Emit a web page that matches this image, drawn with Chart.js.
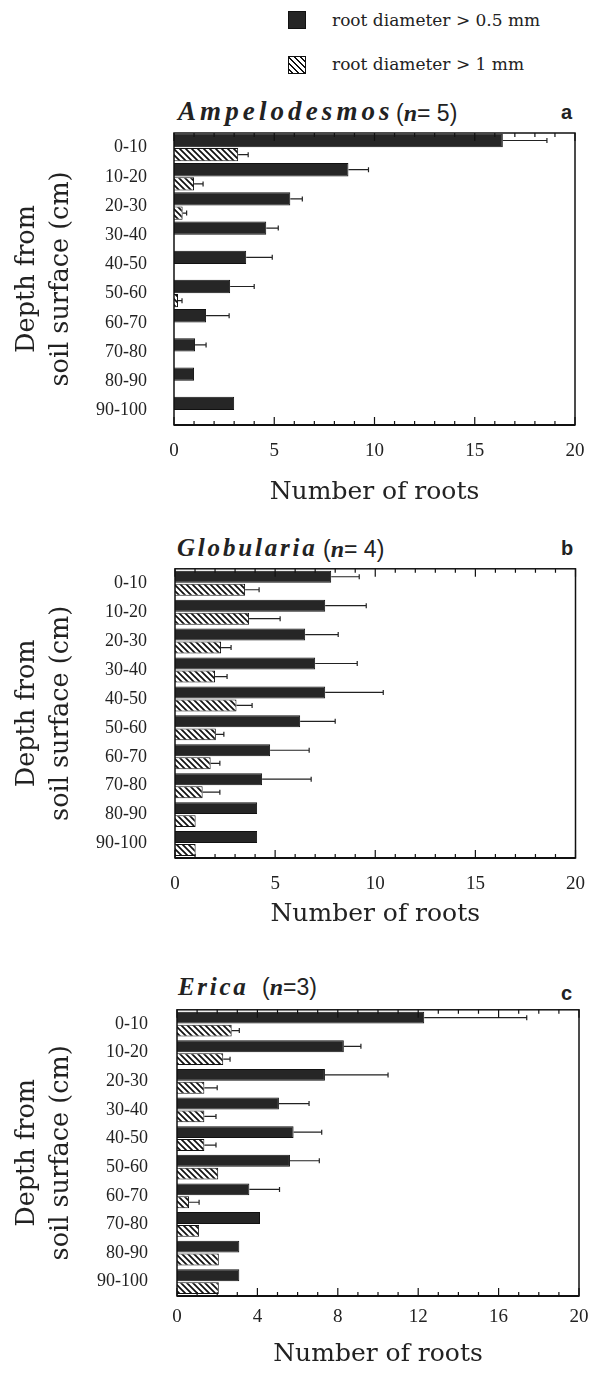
<!DOCTYPE html>
<html><head><meta charset="utf-8">
<script src="https://cdn.jsdelivr.net/npm/chart.js@4.4.1/dist/chart.umd.min.js"></script>
<style>
body{margin:0;width:600px;height:1373px;position:relative;background:#fff;overflow:hidden;color:#222}
.abs{position:absolute;white-space:nowrap;line-height:1}
.ttl{font-family:"Liberation Serif",serif;font-weight:bold;font-style:italic}
.n{font-family:"Liberation Sans",sans-serif;font-size:23px}
.n i{font-family:"Liberation Serif",serif;font-weight:bold;font-size:24px}
.lab{font-family:"Liberation Sans",sans-serif;font-weight:bold;font-size:20px}
.leg{font-family:"DejaVu Serif",serif;font-size:17px}
.sq{position:absolute;width:18px;height:18px;border:1px solid #111;box-sizing:border-box}
canvas{position:absolute;left:0}
</style></head>
<body>
<div class="sq" style="left:288px;top:11px;background:#262626"></div>
<div class="abs leg" style="left:332px;top:12px">root diameter &gt; 0.5 mm</div>
<div class="sq" style="left:288px;top:56px;background:repeating-linear-gradient(45deg,#fff 0 2px,#111 2px 3.5px,#fff 3.5px 4.2px)"></div>
<div class="abs leg" style="left:332px;top:56px">root diameter &gt; 1 mm</div>

<div class="abs ttl" style="left:178px;top:98px;font-size:27px;letter-spacing:4.1px">Ampelodesmos</div>
<div class="abs n" style="left:396px;top:101px">(<i>n</i>= 5)</div>
<div class="abs lab" style="left:561px;top:102px">a</div>

<div class="abs ttl" style="left:177px;top:535px;font-size:25px;letter-spacing:2.8px">Globularia</div>
<div class="abs n" style="left:323px;top:537px">(<i>n</i>= 4)</div>
<div class="abs lab" style="left:561px;top:538px">b</div>

<div class="abs ttl" style="left:178px;top:974px;font-size:25px;letter-spacing:2.7px">Erica</div>
<div class="abs n" style="left:262px;top:975px">(<i>n</i>=3)</div>
<div class="abs lab" style="left:561px;top:983px">c</div>

<canvas id="ca" width="600" height="415" style="top:95px"></canvas>
<canvas id="cb" width="600" height="415" style="top:530px"></canvas>
<canvas id="cc" width="600" height="403" style="top:970px"></canvas>

<script>
// ---- data ----
const categories = ['0-10','10-20','20-30','30-40','40-50','50-60','60-70','70-80','80-90','90-100'];
const seriesNames = ['root diameter > 0.5 mm','root diameter > 1 mm'];

// Panel a: Ampelodesmos (n=5)
const darkA    = [16.4, 8.7, 5.8, 4.6, 3.6, 2.8, 1.6, 1.05, 1.0, 3.0];
const darkAErr = [2.2, 1.0, 0.6, 0.6, 1.3, 1.2, 1.15, 0.55, 0, 0];
const hatchA    = [3.2, 1.0, 0.43, null, null, 0.2, null, null, null, null];
const hatchAErr = [0.5, 0.45, 0.2, 0, 0, 0.2, 0, 0, 0, 0];

// Panel b: Globularia (n=4)
const darkB    = [7.8, 7.5, 6.5, 7.0, 7.5, 6.25, 4.75, 4.35, 4.1, 4.1];
const darkBErr = [1.4, 2.05, 1.65, 2.1, 2.9, 1.75, 1.95, 2.45, 0, 0];
const hatchB    = [3.5, 3.7, 2.3, 2.0, 3.07, 2.04, 1.78, 1.38, 1.03, 1.03];
const hatchBErr = [0.7, 1.55, 0.5, 0.6, 0.78, 0.4, 0.46, 0.86, 0, 0];

// Panel c: Erica (n=3)
const darkC    = [12.3, 8.3, 7.36, 5.07, 5.8, 5.62, 3.6, 4.13, 3.1, 3.1];
const darkCErr = [5.1, 0.85, 3.14, 1.5, 1.4, 1.46, 1.5, 0, 0, 0];
const hatchC    = [2.72, 2.3, 1.36, 1.36, 1.36, 2.05, 0.6, 1.1, 2.08, 2.08];
const hatchCErr = [0.38, 0.34, 0.64, 0.58, 0.58, 0, 0.5, 0, 0, 0];

const xTicksAB = [0, 5, 10, 15, 20];
const xTicksC  = [0, 4, 8, 12, 16, 20];
const yTitle = ['Depth from', 'soil surface (cm)'];
const xTitle = 'Number of roots';

// ---- drawing ----
function hatchPattern(){
  const s = 6, p = document.createElement('canvas');
  p.width = p.height = s;
  const c = p.getContext('2d');
  c.fillStyle = '#fff'; c.fillRect(0,0,s,s);
  c.strokeStyle = '#111'; c.lineWidth = 1.7;
  c.beginPath();
  c.moveTo(-s,0); c.lineTo(s,2*s);
  c.moveTo(0,0); c.lineTo(s,s);
  c.moveTo(0,-s); c.lineTo(2*s,s);
  c.stroke();
  return document.createElement('canvas').getContext('2d').createPattern(p,'repeat');
}
const HATCH = hatchPattern();

const errorBars = {
  id:'errorBars',
  afterDatasetsDraw(chart){
    const ctx = chart.ctx, xs = chart.scales.x;
    chart.data.datasets.forEach((ds,di)=>{
      const meta = chart.getDatasetMeta(di);
      meta.data.forEach((bar,i)=>{
        const v = ds.data[i], e = ds.errors[i];
        if (v == null || !e) return;
        const x0 = xs.getPixelForValue(v), x1 = xs.getPixelForValue(v+e), y = bar.y;
        ctx.save();
        ctx.strokeStyle = '#222'; ctx.lineWidth = 1.2;
        ctx.beginPath();
        ctx.moveTo(x0,y); ctx.lineTo(x1,y);
        ctx.moveTo(x1,y-2.5); ctx.lineTo(x1,y+2.5);
        ctx.stroke();
        ctx.restore();
      });
    });
  }
};

const frame = {
  id:'frame',
  afterDraw(chart){
    const {ctx, chartArea:a} = chart, xs = chart.scales.x;
    const major = chart.options.plugins.frame.major;
    ctx.save();
    ctx.strokeStyle = '#111';
    ctx.lineWidth = 1.5;
    ctx.strokeRect(a.left, a.top, a.right-a.left, a.bottom-a.top);
    ctx.lineWidth = 1.2;
    ctx.beginPath();
    for (let v = xs.min; v <= xs.max; v++) {
      const x = xs.getPixelForValue(v);
      const L = major.includes(v) ? 8 : 4;
      ctx.moveTo(x, a.bottom); ctx.lineTo(x, a.bottom - L);
      ctx.moveTo(x, a.top); ctx.lineTo(x, a.top + L);
    }
    ctx.stroke();
    ctx.lineWidth = 2;
    ctx.beginPath(); ctx.moveTo(a.left, a.bottom); ctx.lineTo(a.right, a.bottom); ctx.stroke();
    ctx.restore();
  }
};

function panel(id, dark, darkErr, hatch, hatchErr, ticks, g){
  new Chart(document.getElementById(id), {
    type:'bar',
    data:{
      labels: categories,
      datasets:[
        {label:seriesNames[0], data:dark, errors:darkErr, backgroundColor:'#262626', borderColor:'#111', borderWidth:1, categoryPercentage:g.cp, barPercentage:g.bp},
        {label:seriesNames[1], data:hatch, errors:hatchErr, backgroundColor:HATCH, borderColor:'#111', borderWidth:1, categoryPercentage:g.cp, barPercentage:g.bp}
      ]
    },
    options:{
      indexAxis:'y',
      responsive:false,
      animation:false,
      devicePixelRatio:1,
      layout:{padding:{top:g.top, right:g.right, left:0, bottom:0}},
      plugins:{legend:{display:false}, tooltip:{enabled:false}, frame:{major:ticks}},
      scales:{
        x:{
          min:0, max:20,
          afterBuildTicks: s => { s.ticks = ticks.map(v => ({value:v})); },
          ticks:{font:{family:'Liberation Serif', size:19}, color:'#222', padding:g.tickPad, maxRotation:0},
          grid:{display:false, drawTicks:false},
          border:{display:false},
          title:{display:true, text:xTitle, font:{family:'DejaVu Serif', size:25}, color:'#222', padding:{top:0, bottom:g.titlePad}},
          afterFit: s => { s.height = g.xH; }
        },
        y:{
          ticks:{font:{family:'Liberation Serif', size:18}, color:'#222', padding:g.yPad},
          grid:{display:false, drawTicks:false},
          border:{display:false},
          title:{display:true, text:yTitle, font:{family:'DejaVu Serif', size:25.5, lineHeight:1.35}, color:'#222', padding:{top:10, bottom:0}},
          afterFit: s => { s.width = g.left; }
        }
      }
    },
    plugins:[errorBars, frame]
  });
}

panel('ca', darkA, darkAErr, hatchA, hatchAErr, xTicksAB, {top:38, right:25, left:174, xH:85, tickPad:15, titlePad:3, yPad:27, cp:0.97, bp:0.94});
panel('cb', darkB, darkBErr, hatchB, hatchBErr, xTicksAB, {top:38, right:23, left:175, xH:87, tickPad:15, titlePad:16, yPad:28, cp:0.9, bp:0.92});
panel('cc', darkC, darkCErr, hatchC, hatchCErr, xTicksC,  {top:37, right:21, left:177, xH:77, tickPad:9.5, titlePad:4, yPad:29, cp:0.9, bp:0.92});
</script>
</body></html>
